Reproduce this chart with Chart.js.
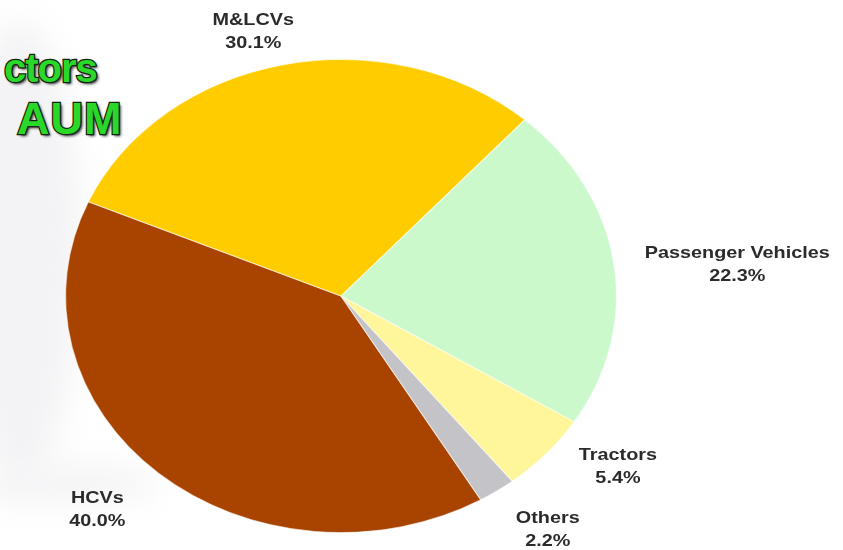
<!DOCTYPE html>
<html>
<head>
<meta charset="utf-8">
<script src="https://cdn.jsdelivr.net/npm/chart.js@4/dist/chart.umd.min.js"></script>
<style>
  html, body { margin: 0; padding: 0; background: #fff; }
  #wrap { position: relative; width: 843px; height: 550px; overflow: hidden; }
  .haze { position: absolute; background: #f3f3f5; filter: blur(16px); border-radius: 50%; }
  .banner {
    position: absolute;
    font-family: "Liberation Sans", Arial, sans-serif;
    font-weight: bold;
    color: #2ad82a;
    -webkit-text-stroke: 2.5px #0c240c;
    paint-order: stroke fill;
    text-shadow: 2px 2px 3px #222;
    white-space: nowrap;
    line-height: 1;
  }
  canvas { position: absolute; left: 0; top: 0; }
</style>
</head>
<body>
<div id="wrap">
  <div class="haze" style="left:-40px; top:20px; width:120px; height:460px;"></div>
  <div class="haze" style="left:-30px; top:466px; width:190px; height:36px;"></div>
  <div class="banner" style="left:4px; top:48px; font-size:40px; letter-spacing:-1px;">ctors</div>
  <div class="banner" style="left:17px; top:96px; font-size:45px; letter-spacing:1px;">AUM</div>
  <canvas id="aumChart" width="843" height="550"></canvas>
</div>
<script>
const categories = ['HCVs', 'M&LCVs', 'Passenger Vehicles', 'Tractors', 'Others'];
const shares = [40.0, 30.1, 22.3, 5.4, 2.2];
const sliceColors = ['#a84400', '#ffcc00', '#ccf9cc', '#fff69c', '#c4c4c8'];

// the whole pie (and its labels) is drawn wider than tall
const stretchX = 276 / 237;

// where each label sits: distance from centre (x radius) and a small turn off the slice middle
const labelReach = [1.262, 1.162, 1.445, 1.236, 1.24];
const labelTurn = [3.0, -3.6, 2.7, -6.3, -2.8];

const ellipsePlugin = {
    id: 'ellipse',
    beforeDatasetsDraw(chart) {
        const arc = chart.getDatasetMeta(0).data[0];
        const ctx = chart.ctx;
        ctx.save();
        ctx.translate(arc.x, 0);
        ctx.scale(stretchX, 1);
        ctx.translate(-arc.x, 0);
    },
    afterDatasetsDraw(chart) {
        chart.ctx.restore();
    }
};

const sliceLabels = {
    id: 'sliceLabels',
    afterDraw(chart) {
        const ctx = chart.ctx;
        const arcs = chart.getDatasetMeta(0).data;
        arcs.forEach((arc, i) => {
            const mid = (arc.startAngle + arc.endAngle) / 2 + labelTurn[i] * Math.PI / 180;
            const r = arc.outerRadius * labelReach[i];
            const x = arc.x + Math.cos(mid) * r * stretchX;
            const y = arc.y + Math.sin(mid) * r;
            ctx.save();
            ctx.translate(x, y);
            ctx.scale(stretchX, 1);
            ctx.font = 'bold 17px "Liberation Sans", Arial, sans-serif';
            ctx.fillStyle = '#2b2b2b';
            ctx.textAlign = 'center';
            ctx.textBaseline = 'middle';
            ctx.fillText(categories[i], 0, -11);
            ctx.fillText(shares[i].toFixed(1) + '%', 0, 12);
            ctx.restore();
        });
    }
};

new Chart(document.getElementById('aumChart'), {
    type: 'pie',
    data: {
        labels: categories,
        datasets: [{
            data: shares,
            backgroundColor: sliceColors,
            borderColor: 'rgba(255, 255, 255, 0.55)',
            borderWidth: 1,
            clip: false
        }]
    },
    options: {
        responsive: false,
        animation: false,
        rotation: 149.5,
        layout: {
            padding: { left: 104, right: 265, top: 59, bottom: 17 }
        },
        plugins: {
            legend: { display: false },
            tooltip: { enabled: false }
        }
    },
    plugins: [ellipsePlugin, sliceLabels]
});
</script>
</body>
</html>
